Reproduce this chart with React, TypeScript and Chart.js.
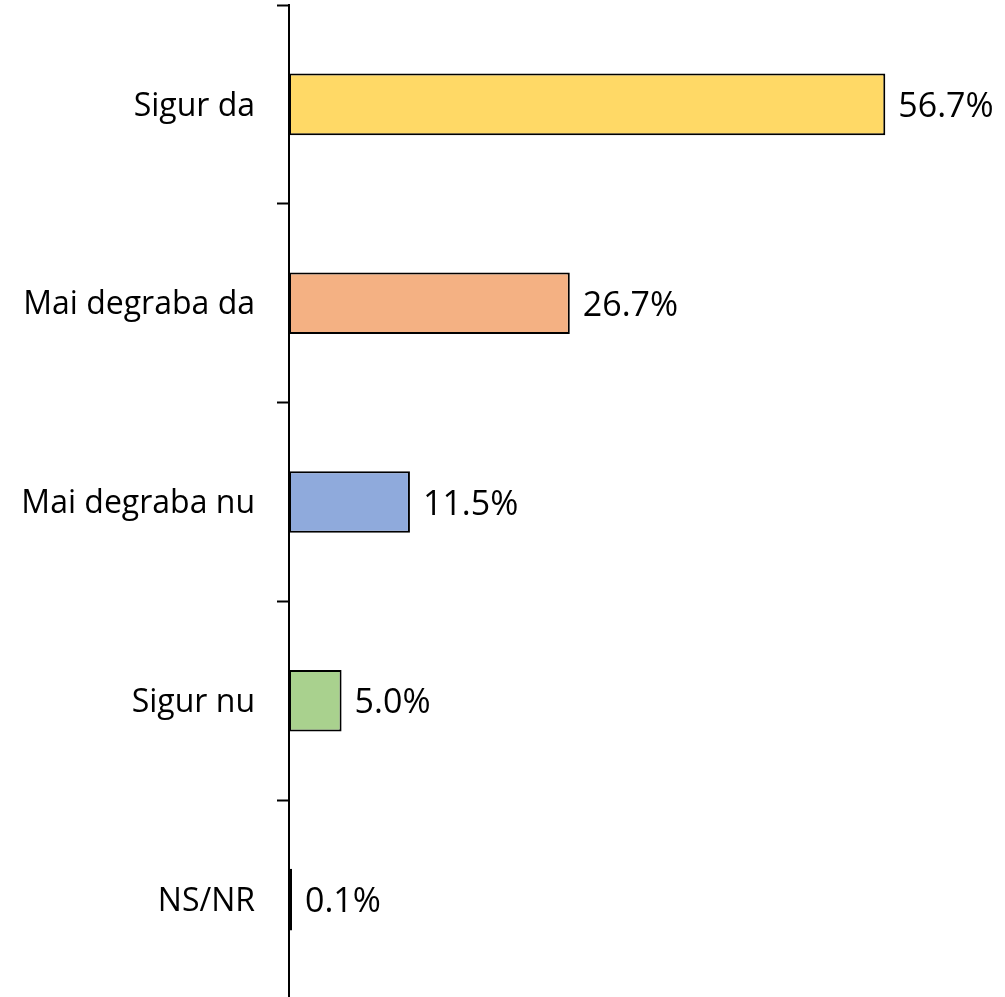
import React, { useEffect, useRef } from "react";
import { Chart, registerables } from "chart.js";

Chart.register(...registerables);

const categories = ["Sigur da", "Mai degraba da", "Mai degraba nu", "Sigur nu", "NS/NR"];
const values = [56.7, 26.7, 11.5, 5.0, 0.1];
const valueLabels = ["56.7%", "26.7%", "11.5%", "5.0%", "0.1%"];
const barColors = ["#FFD966", "#F4B183", "#8FAADC", "#A9D18E", "#000000"];

const FONT = "'Open Sans', sans-serif";
const TICK_FONT_SIZE = 32;
const VALUE_FONT_SIZE = 34;

const valueLabelPlugin = {
  id: "valueLabels",
  afterDatasetsDraw(chart: any) {
    const ctx = chart.ctx;
    const meta = chart.getDatasetMeta(0);
    ctx.save();
    ctx.font = `${VALUE_FONT_SIZE}px ${FONT}`;
    ctx.fillStyle = "#000";
    ctx.textAlign = "left";
    ctx.textBaseline = "middle";
    meta.data.forEach((bar: any, i: number) => {
      ctx.fillText(valueLabels[i], bar.x + 13, bar.y + 3);
    });
    ctx.restore();
  },
};

export default function App() {
  const ref = useRef<HTMLCanvasElement>(null);
  useEffect(() => {
    document.body.style.margin = "0";
    const chart = new Chart(ref.current!, {
      type: "bar",
      data: {
        labels: categories,
        datasets: [
          {
            data: values,
            backgroundColor: barColors,
            borderColor: "#000",
            borderWidth: 2,
            borderSkipped: false,
            barPercentage: 0.31,
            categoryPercentage: 1,
            minBarLength: 3,
          },
        ],
      },
      options: {
        indexAxis: "y",
        animation: false,
        responsive: false,
        maintainAspectRatio: false,
        layout: { padding: { top: 5, bottom: 3, left: 0, right: 85 } },
        plugins: { legend: { display: false }, tooltip: { enabled: false } },
        scales: {
          x: { display: false, min: 0, max: 60 },
          y: {
            afterFit(scale: any) {
              scale.width = 289;
              scale.paddingTop = 0;
              scale.paddingBottom = 0;
            },
            grid: {
              drawOnChartArea: false,
              drawTicks: true,
              tickLength: 12,
              tickWidth: 2,
              tickColor: "#000",
              offset: true,
            },
            border: { display: true, color: "#000", width: 2 },
            ticks: {
              color: "#000",
              font: { family: FONT, size: TICK_FONT_SIZE },
              padding: 22,
              labelOffset: 2,
            },
          },
        },
      },
      plugins: [valueLabelPlugin],
    });
    return () => chart.destroy();
  }, []);
  return (
    <div style={{ width: 1005, height: 997, overflow: "hidden", position: "relative", background: "#fff" }}>
      <canvas ref={ref} width={1005} height={1002} style={{ display: "block" }} />
    </div>
  );
}
